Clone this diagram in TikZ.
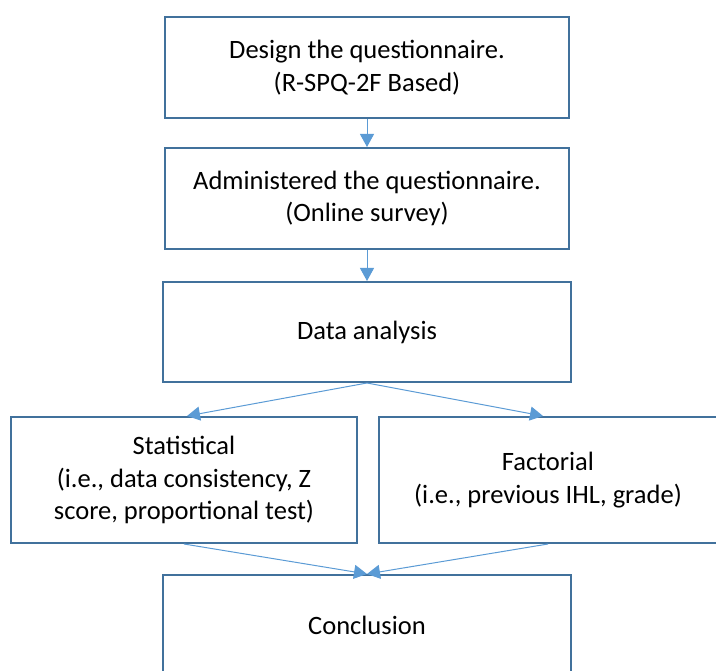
\documentclass[tikz,border=0pt]{standalone}
\usepackage{fontspec}
\setmainfont{Carlito}
\usetikzlibrary{arrows.meta}
\definecolor{boxline}{HTML}{41719C}
\definecolor{arrowline}{HTML}{5B9BD5}
\begin{document}
\begin{tikzpicture}[x=1pt,y=-1pt,
  flowbox/.style={draw=boxline, line width=2pt, fill=white, align=center,
    inner sep=0pt, font=\fontsize{26.5}{32.5}\selectfont, text=black},
  conn/.style={draw=arrowline, line width=1pt,
    -{Triangle[length=13pt,width=14pt]}}]
\useasboundingbox (0,0) rectangle (716,671);
\node[flowbox, minimum width=404pt, minimum height=101pt] (b1) at (367,67.5)
  {Design the questionnaire.\\(R-SPQ-2F Based)};
\node[flowbox, minimum width=404pt, minimum height=101pt] (b2) at (367,198.5)
  {Administered the questionnaire.\\(Online survey)};
\node[flowbox, minimum width=408pt, minimum height=100pt] (b3) at (367,332)
  {Data analysis};
\node[flowbox, minimum width=346pt, minimum height=126pt] (stat) at (184,480)
  {Statistical\\(i.e., data consistency, Z\\score, proportional test)};
\node[flowbox, minimum width=338pt, minimum height=126pt] (fact) at (548,480)
  {Factorial\\(i.e., previous IHL, grade)};
\node[flowbox, minimum width=408pt, minimum height=100pt] (concl) at (367,625)
  {Conclusion};
\draw[conn] (b1.south) -- (b2.north);
\draw[conn] (b2.south) -- (b3.north);
\draw[conn] (b3.south) -- ([xshift=3pt]stat.north);
\draw[conn] (b3.south) -- ([xshift=-5pt]fact.north);
\draw[conn] (stat.south) -- (concl.north);
\draw[conn] (fact.south) -- (concl.north);
\end{tikzpicture}
\end{document}
